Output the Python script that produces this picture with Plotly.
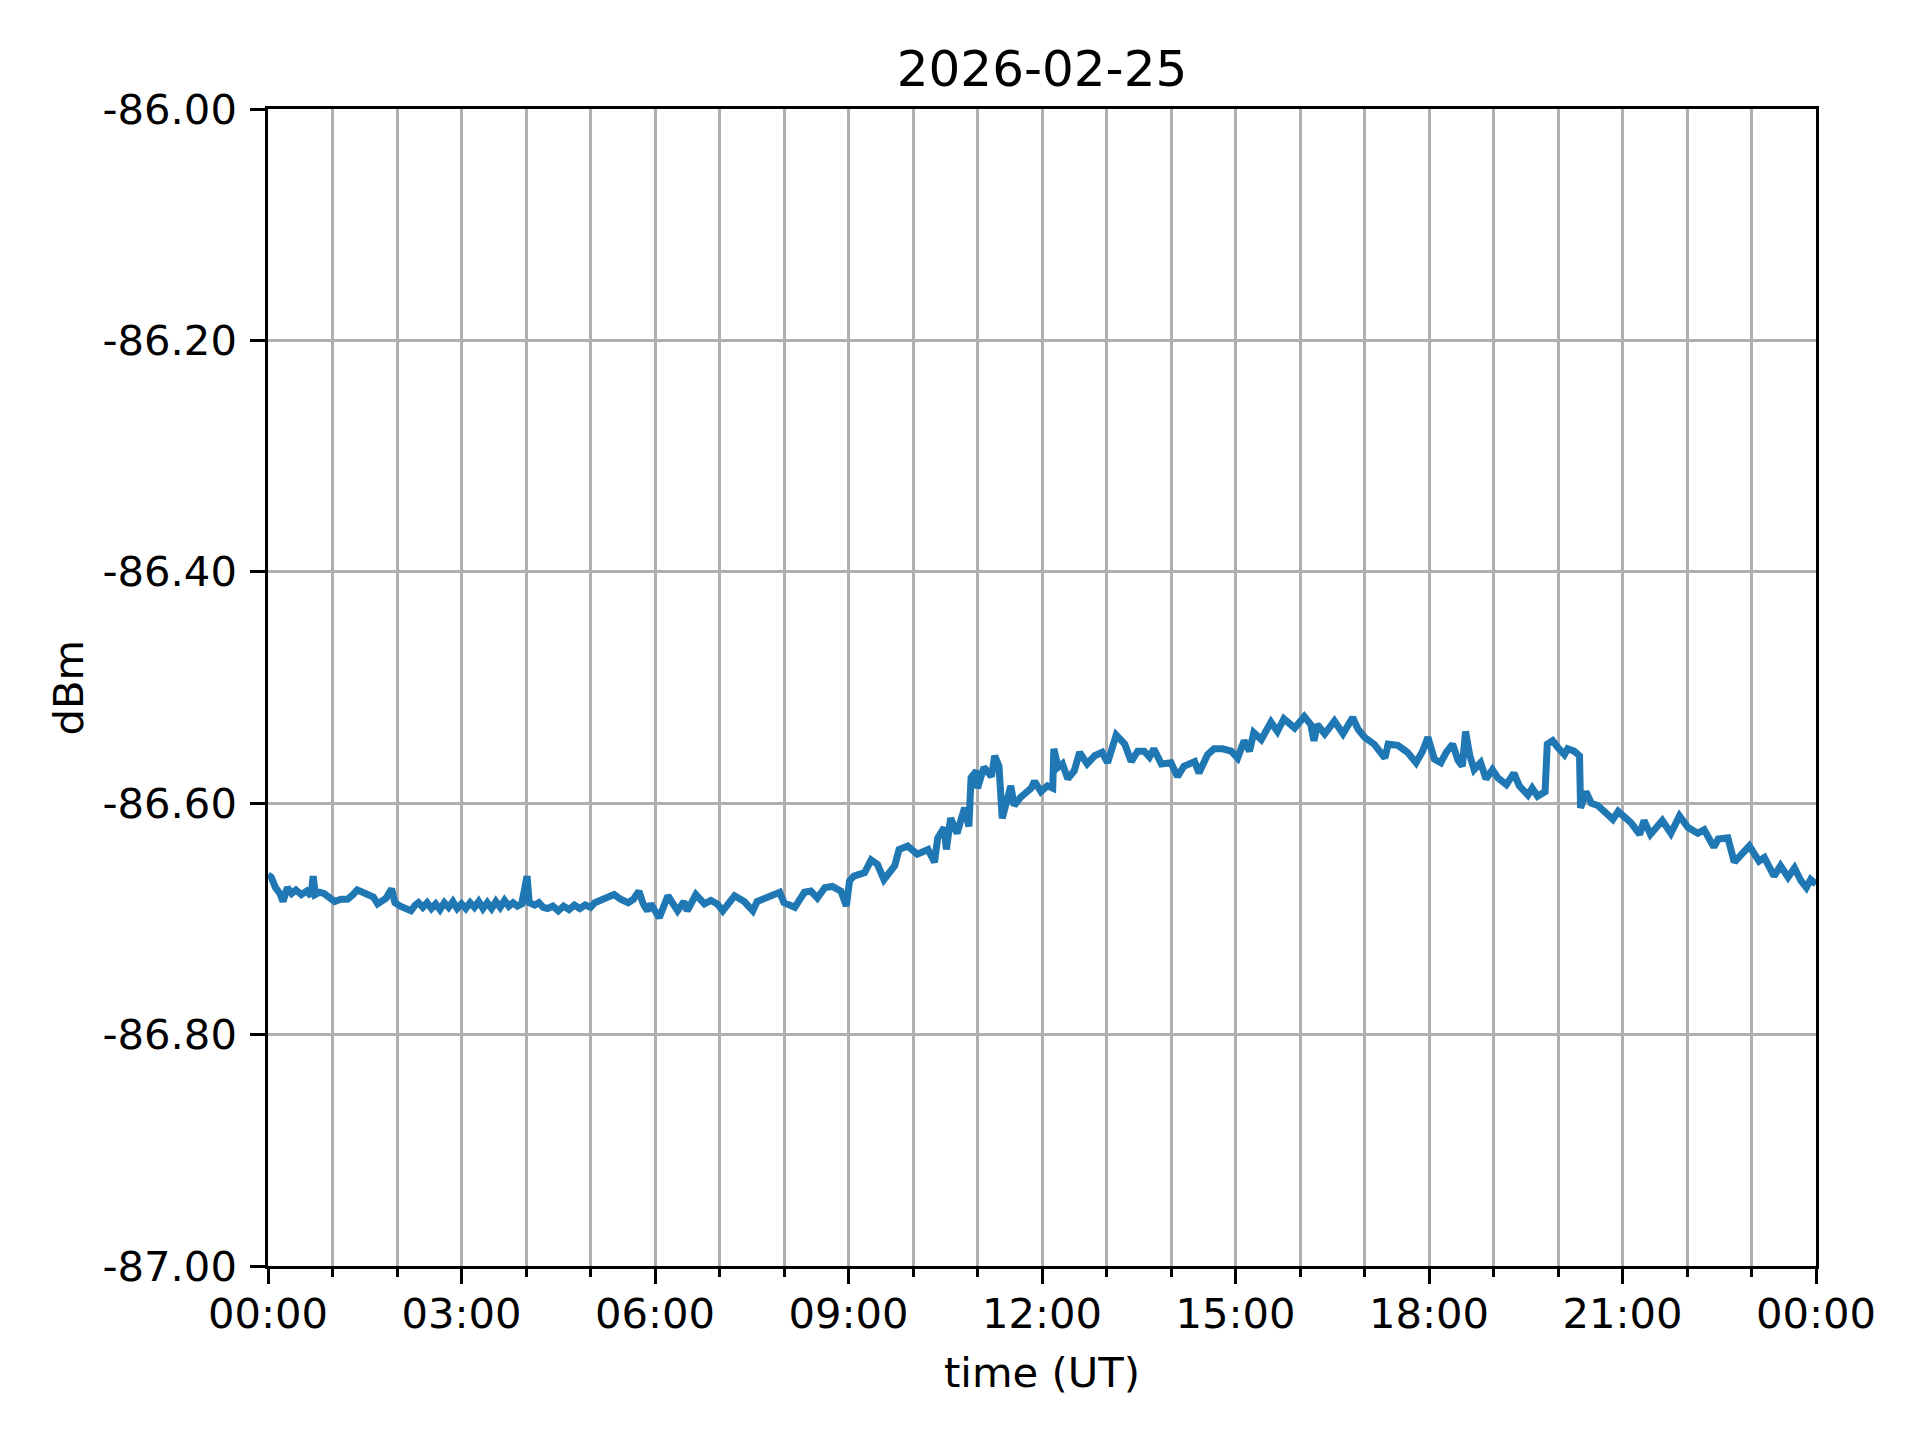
import plotly.graph_objects as go
from datetime import datetime, timedelta

DATE = "2026-02-25"
TITLE = "2026-02-25"
X_LABEL = "time (UT)"
Y_LABEL = "dBm"

time_labels = [
    "00:00", "00:03", "00:07", "00:11", "00:14", "00:18", "00:22", "00:26", "00:31", "00:36",
    "00:40", "00:42", "00:44", "00:48", "00:52", "00:57", "01:02", "01:08", "01:14", "01:19",
    "01:23", "01:28", "01:33", "01:38", "01:42", "01:46", "01:50", "01:55", "01:58", "02:03",
    "02:07", "02:13", "02:17", "02:20", "02:24", "02:28", "02:32", "02:36", "02:40", "02:44",
    "02:48", "02:52", "02:56", "03:00", "03:04", "03:08", "03:12", "03:16", "03:20", "03:24",
    "03:28", "03:32", "03:36", "03:40", "03:44", "03:48", "03:52", "03:56", "04:01", "04:03",
    "04:08", "04:12", "04:16", "04:20", "04:25", "04:30", "04:35", "04:40", "04:45", "04:50",
    "04:55", "05:00", "05:04", "05:10", "05:16", "05:22", "05:28", "05:35", "05:40", "05:45",
    "05:49", "05:53", "05:56", "06:04",
    "06:12", "06:21", "06:27", "06:30", "06:38", "06:46", "06:52", "06:58", "07:03", "07:14",
    "07:23", "07:31", "07:35", "07:42", "07:48", "07:56", "08:00", "08:10", "08:19", "08:25",
    "08:31", "08:38", "08:45", "08:53", "08:58", "09:01", "09:05", "09:15", "09:21", "09:27",
    "09:33", "09:43", "09:47", "09:55", "10:04", "10:14", "10:20", "10:23", "10:29", "10:31",
    "10:35", "10:41", "10:48", "10:52", "10:54", "10:59", "11:00", "11:06", "11:13", "11:16",
    "11:20", "11:23", "11:31", "11:34", "11:40", "11:50", "11:53", "11:59",
    "12:05", "12:10", "12:11", "12:15", "12:19", "12:24", "12:30", "12:35", "12:42", "12:49",
    "12:56", "13:01", "13:09", "13:17", "13:23", "13:29", "13:35", "13:40", "13:44", "13:51",
    "14:00", "14:06", "14:12", "14:22", "14:26", "14:34", "14:40", "14:48", "14:56", "15:02",
    "15:08", "15:13", "15:17", "15:24", "15:33", "15:39", "15:45", "15:55", "16:04", "16:10",
    "16:13", "16:16", "16:23", "16:32", "16:40", "16:49", "16:54", "17:00", "17:09", "17:19",
    "17:22", "17:31", "17:40", "17:48", "17:54", "17:59",
    "18:05", "18:11", "18:16", "18:22", "18:27", "18:31", "18:34", "18:38", "18:42", "18:48",
    "18:53", "18:59", "19:04", "19:12", "19:19", "19:24", "19:32", "19:36", "19:41", "19:48",
    "19:50", "19:55", "20:00", "20:06", "20:09", "20:15", "20:20", "20:21", "20:26", "20:31",
    "20:37", "20:43", "20:51", "20:56", "21:03", "21:08", "21:16", "21:20", "21:26", "21:37",
    "21:45", "21:53", "22:01", "22:10", "22:16", "22:25", "22:29", "22:38", "22:44", "22:52",
    "22:58", "23:07", "23:12", "23:21", "23:27", "23:34", "23:40", "23:46", "23:51", "23:55",
    "24:00",
]

dbm = [
    -86.662, -86.664, -86.673, -86.678, -86.685, -86.673, -86.678, -86.675, -86.679, -86.676,
    -86.680, -86.663, -86.679, -86.677, -86.678, -86.682, -86.685, -86.683, -86.683, -86.679,
    -86.675, -86.677, -86.679, -86.681, -86.687, -86.684, -86.682, -86.674, -86.686, -86.689,
    -86.690, -86.693, -86.688, -86.686, -86.690, -86.686, -86.691, -86.687, -86.692, -86.686,
    -86.690, -86.685, -86.691, -86.687, -86.691, -86.686, -86.690, -86.685, -86.691, -86.686,
    -86.691, -86.685, -86.690, -86.684, -86.689, -86.686, -86.689, -86.687, -86.663, -86.686,
    -86.688, -86.686, -86.690, -86.691, -86.689, -86.693, -86.689, -86.692, -86.688, -86.691,
    -86.688, -86.690, -86.686, -86.684, -86.682, -86.679, -86.683, -86.686, -86.683, -86.676,
    -86.687, -86.693, -86.687, -86.699,
    -86.680, -86.693, -86.685, -86.693, -86.679, -86.687, -86.684, -86.687, -86.693, -86.680,
    -86.685, -86.693, -86.685, -86.682, -86.680, -86.677, -86.686, -86.690, -86.677, -86.676,
    -86.682, -86.673, -86.672, -86.676, -86.689, -86.667, -86.663, -86.660, -86.649, -86.653,
    -86.666, -86.654, -86.640, -86.637, -86.644, -86.640, -86.651, -86.630, -86.621, -86.640,
    -86.613, -86.626, -86.604, -86.620, -86.578, -86.572, -86.587, -86.569, -86.577, -86.559,
    -86.568, -86.613, -86.585, -86.602, -86.595, -86.587, -86.581, -86.590,
    -86.585, -86.587, -86.553, -86.569, -86.566, -86.579, -86.572, -86.556, -86.566, -86.559,
    -86.556, -86.565, -86.541, -86.549, -86.564, -86.555, -86.555, -86.560, -86.553, -86.566,
    -86.565, -86.577, -86.568, -86.564, -86.574, -86.558, -86.553, -86.553, -86.555, -86.561,
    -86.546, -86.555, -86.539, -86.545, -86.530, -86.538, -86.527, -86.535, -86.525, -86.532,
    -86.546, -86.532, -86.540, -86.529, -86.540, -86.526, -86.536, -86.543, -86.549, -86.561,
    -86.549, -86.550, -86.556, -86.565, -86.555, -86.543,
    -86.562, -86.565, -86.556, -86.549, -86.563, -86.568, -86.538, -86.559, -86.571, -86.565,
    -86.579, -86.571, -86.578, -86.584, -86.574, -86.585, -86.593, -86.587, -86.594, -86.590,
    -86.549, -86.546, -86.552, -86.558, -86.553, -86.555, -86.559, -86.604, -86.590, -86.600,
    -86.602, -86.607, -86.614, -86.607, -86.612, -86.617, -86.627, -86.615, -86.627, -86.615,
    -86.626, -86.611, -86.621, -86.626, -86.623, -86.638, -86.631, -86.630, -86.651, -86.643,
    -86.637, -86.650, -86.647, -86.663, -86.654, -86.664, -86.656, -86.667, -86.673, -86.666,
    -86.670,
]

x_tick_hours = [0, 3, 6, 9, 12, 15, 18, 21, 24]
x_tick_text = ["00:00", "03:00", "06:00", "09:00", "12:00", "15:00", "18:00", "21:00", "00:00"]
y_tick_vals = [-87.0, -86.8, -86.6, -86.4, -86.2, -86.0]
y_tick_text = ["-87.00", "-86.80", "-86.60", "-86.40", "-86.20", "-86.00"]

base = datetime.strptime(DATE, "%Y-%m-%d")


def to_dt(label):
    h, m = label.split(":")
    return base + timedelta(hours=int(h), minutes=int(m))


x = [to_dt(t) for t in time_labels]
x_tick_vals = [base + timedelta(hours=h) for h in x_tick_hours]

FONT = "DejaVu Sans"
W, H = 1920, 1440
OFF = 7  # page body offset
# target plot area on screen
L, R, T, B = 267, 1815, 108, 1265

fig = go.Figure()
fig.add_trace(go.Scatter(
    x=x, y=dbm, mode="lines",
    line=dict(color="#1f77b4", width=7),
    showlegend=False,
))

fig.update_layout(
    width=W, height=H,
    margin=dict(l=L - OFF, r=W - (R - OFF), t=T - OFF, b=H - (B - OFF), pad=0),
    paper_bgcolor="white", plot_bgcolor="white",
    font=dict(family=FONT, size=41.7, color="black"),
    title=dict(text=TITLE, x=0.5, xref="paper", xanchor="center",
               y=1 - (67 - OFF) / H, yref="container", yanchor="middle",
               font=dict(family=FONT, size=50, color="black")),
    xaxis=dict(
        range=[base, base + timedelta(hours=24)],
        tickmode="array", tickvals=x_tick_vals, ticktext=x_tick_text,
        ticks="outside", ticklen=14.6, tickwidth=3.3, tickcolor="black",
        ticklabelstandoff=-6,
        showgrid=True, gridcolor="#b0b0b0", gridwidth=3.3,
        showline=True, linecolor="black", linewidth=3.3, mirror=True,
        zeroline=False,
        tickfont=dict(family=FONT, size=41.7, color="black"),
        minor=dict(dtick=3600000, tick0=base, ticks="outside", ticklen=8.3,
                   tickwidth=2.5, tickcolor="black", showgrid=True,
                   gridcolor="#b0b0b0", gridwidth=3.3),
    ),
    yaxis=dict(
        range=[-87.0, -86.0],
        tickmode="array", tickvals=y_tick_vals, ticktext=y_tick_text,
        ticks="outside", ticklen=14.6, tickwidth=3.3, tickcolor="black",
        ticklabelstandoff=5,
        showgrid=True, gridcolor="#b0b0b0", gridwidth=3.3,
        showline=True, linecolor="black", linewidth=3.3, mirror=True,
        zeroline=False,
        tickfont=dict(family=FONT, size=41.7, color="black"),
    ),
    annotations=[
        dict(text=X_LABEL, x=0.5, xref="paper", y=(B - 1371) / (B - T), yref="paper",
             xanchor="center", yanchor="middle", showarrow=False,
             font=dict(family=FONT, size=41.7, color="black")),
        dict(text=Y_LABEL, x=(67 - L) / (R - L), xref="paper", y=0.5, yref="paper",
             xanchor="center", yanchor="middle", textangle=-90, showarrow=False,
             font=dict(family=FONT, size=41.7, color="black")),
    ],
)

fig.write_html("out.html")
